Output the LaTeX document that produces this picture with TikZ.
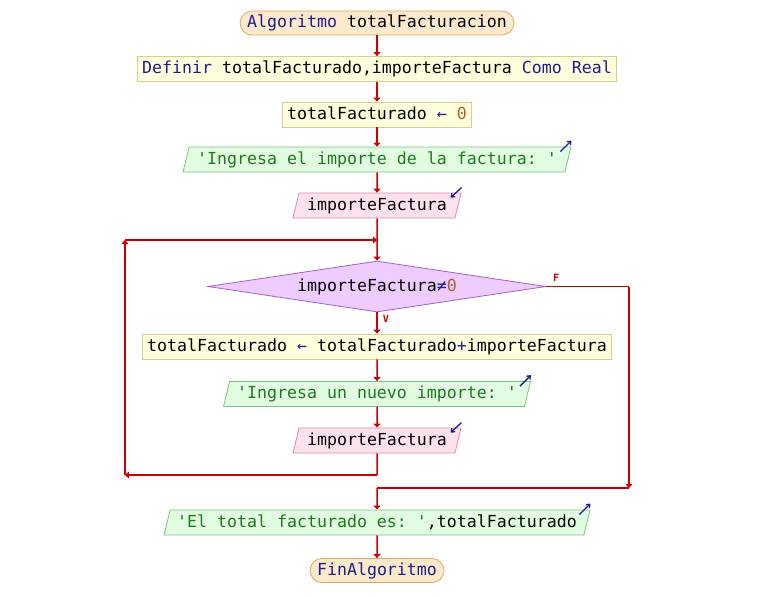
\documentclass[tikz,border=0pt]{standalone}
\usepackage{fontspec}
\setmonofont{DejaVu Sans Mono}
\usetikzlibrary{shapes.geometric,arrows.meta,calc}
\definecolor{flowred}{HTML}{CC0000}
\definecolor{kwblue}{HTML}{1E1E8C}
\definecolor{strgreen}{HTML}{1E7A1E}
\definecolor{numbrown}{HTML}{B0602E}
\newcommand{\kw}[1]{\textcolor{kwblue}{#1}}
\newcommand{\str}[1]{\textcolor{strgreen}{#1}}
\newcommand{\num}[1]{\textcolor{numbrown}{#1}}
\tikzset{
  base/.style={font=\ttfamily\fontsize{16.6}{18}\selectfont,text height=12pt,text depth=3pt,line width=0.8pt},
  term/.style={base,rounded corners=12pt,draw={rgb,255:red,224;green,168;blue,96},fill={rgb,255:red,253;green,233;blue,204},minimum height=24pt,inner xsep=7pt,inner ysep=0pt},
  proc/.style={base,draw={rgb,255:red,214;green,208;blue,138},fill={rgb,255:red,255;green,255;blue,221},minimum height=25pt,inner xsep=4.5pt,inner ysep=0pt},
  para/.style={base,trapezium,trapezium left angle=68,trapezium right angle=112,trapezium stretches=true,minimum height=25pt,inner xsep=8pt,inner ysep=0pt},
  outbox/.style={para,draw={rgb,255:red,124;green,196;blue,124},fill={rgb,255:red,226;green,252;blue,226}},
  readbox/.style={para,draw={rgb,255:red,224;green,136;blue,180},fill={rgb,255:red,253;green,226;blue,238}},
  cond/.style={base,diamond,aspect=6.6,draw={rgb,255:red,160;green,96;blue,208},fill={rgb,255:red,238;green,204;blue,255},minimum width=338pt,minimum height=51pt,inner sep=0pt},
  flow/.style={draw=flowred,line width=1.5pt,-{Triangle[width=7pt,length=4pt]}},
  link/.style={draw=flowred,line width=1.5pt},
  icon/.style={draw=kwblue,line width=1.3pt,-{Straight Barb[width=5pt,length=3pt]}},
  branch/.style={text=flowred,font=\ttfamily\bfseries\fontsize{10}{12}\selectfont}
}
\begin{document}
\begin{tikzpicture}[x=1pt,y=-1pt]
\useasboundingbox (0,0) rectangle (775,597);
%blocks
\node[term](start)at(377,23){\kw{Algoritmo} totalFacturacion};
\node[proc](def)at(377,69){\kw{Definir} totalFacturado,importeFactura \kw{Como} \kw{Real}};
\node[proc](init)at(377,114.5){totalFacturado \kw{←} \num{0}};
\node[outbox](out1)at(377,159.5){\str{'Ingresa el importe de la factura: '}};
\node[readbox](read1)at(377,205.5){importeFactura};
\node[cond](check)at(377,286.5){importeFactura\kw{≠}\num{0}};
\node[proc](acc)at(377,346.5){totalFacturado \kw{←} totalFacturado\kw{+}importeFactura};
\node[outbox,inner xsep=7.5pt](out2)at(377,394){\str{'Ingresa un nuevo importe: '}};
\node[readbox](read2)at(377,440.5){importeFactura};
\node[outbox,inner xsep=7pt](out3)at(377,522.5){\str{'El total facturado es: '},totalFacturado};
\node[term](fin)at(377,570.5){\kw{FinAlgoritmo}};
%loop and exit corners
\coordinate(loopB)at(377,475);
\coordinate(loopL)at(125,475);
\coordinate(loopT)at(125,240);
\coordinate(loopJ)at(377,240);
\coordinate(exitR)at(629,286.5);
\coordinate(exitD)at(629,488);
\coordinate(exitJ)at(377,488);
%connectors
\draw[flow](start)--(def);
\draw[flow](def)--(init);
\draw[flow](init)--(out1);
\draw[flow](out1)--(read1);
\draw[flow](read1)--(check);
\draw[flow](check)--(acc);
\draw[flow](acc)--(out2);
\draw[flow](out2)--(read2);
\draw[link](read2)--(loopB);
\draw[flow](loopB)--(loopL);
\draw[flow](loopL)--(loopT);
\draw[flow](loopT)--(loopJ);
\draw[link](check.east)--(exitR);
\draw[flow](exitR)--(exitD);
\draw[link](exitD)--(exitJ);
\draw[flow](exitJ)--(out3);
\draw[flow](out3)--(fin);
%labels
\node[branch](lblF)at(556,278){F};
\node[branch](lblV)at(386,319){V};
%in/out icons
\draw[icon]($(out1.top right corner)+(-11,5)$)--($(out1.top right corner)+(0,-6)$);
\draw[icon]($(out2.top right corner)+(-11,5)$)--($(out2.top right corner)+(0,-6)$);
\draw[icon]($(out3.top right corner)+(-11,5)$)--($(out3.top right corner)+(0,-6)$);
\draw[icon]($(read1.top right corner)+(0,-5)$)--($(read1.top right corner)+(-11,5)$);
\draw[icon]($(read2.top right corner)+(0,-5)$)--($(read2.top right corner)+(-11,5)$);
\end{tikzpicture}
\end{document}
